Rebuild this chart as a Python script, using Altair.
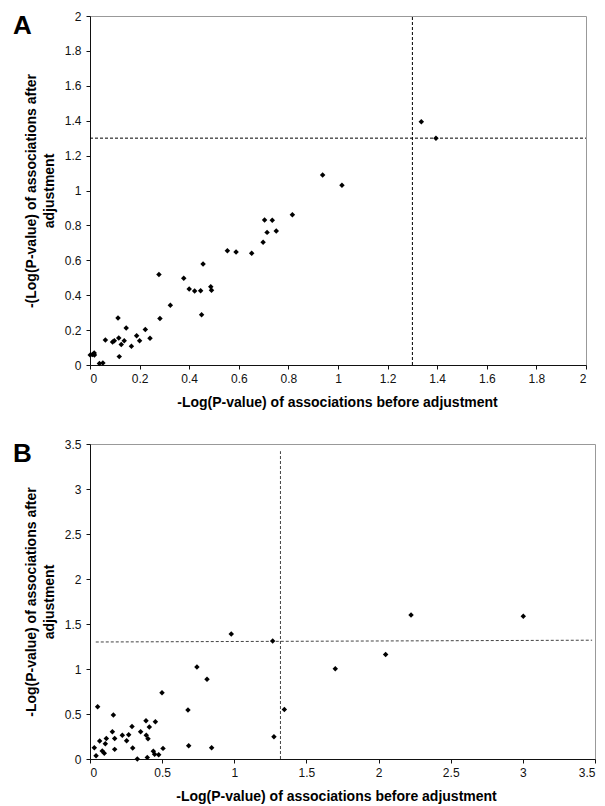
import altair as alt
import pandas as pd

# ---------------- Panel A data ----------------
A_x = [0.938, 1.016, 0.816, 0.704, 0.735, 0.714, 0.751, 0.698, 0.554, 0.589,
       0.652, 0.456, 0.278, 0.378, 0.400, 0.422, 0.446, 0.487, 0.490, 0.450,
       0.324, 0.282, 0.113, 0.146, 0.223, 0.188, 0.242, 0.200, 0.138, 0.116,
       0.091, 0.098, 0.062, 0.126, 0.167, 0.118, 0.001, 0.017, 0.018, 0.010,
       0.038, 0.052, 1.336, 1.395]
A_y = [1.089, 1.030, 0.861, 0.831, 0.829, 0.760, 0.768, 0.703, 0.655, 0.648,
       0.640, 0.579, 0.518, 0.497, 0.436, 0.424, 0.426, 0.449, 0.428, 0.288,
       0.342, 0.267, 0.269, 0.212, 0.204, 0.168, 0.153, 0.139, 0.139, 0.155,
       0.132, 0.139, 0.143, 0.118, 0.107, 0.048, 0.057, 0.069, 0.057, 0.060,
       0.008, 0.011, 1.394, 1.299]

# ---------------- Panel B data ----------------
B_x = [0.979, 1.266, 0.741, 0.811, 1.700, 1.347, 1.275, 0.499, 0.679, 0.684,
       0.843, 0.053, 0.162, 0.388, 0.453, 0.411, 0.291, 0.155, 0.351, 0.224,
       0.268, 0.390, 0.402, 0.171, 0.113, 0.067, 0.254, 0.106, 0.030, 0.296,
       0.171, 0.085, 0.099, 0.042, 0.506, 0.439, 0.448, 0.476, 0.397, 0.328,
       2.225, 3.003, 2.049]
B_y = [1.389, 1.311, 1.022, 0.885, 1.003, 0.551, 0.248, 0.737, 0.544, 0.148,
       0.126, 0.581, 0.489, 0.426, 0.415, 0.355, 0.362, 0.303, 0.303, 0.263,
       0.270, 0.263, 0.226, 0.229, 0.229, 0.200, 0.203, 0.170, 0.126, 0.122,
       0.107, 0.089, 0.063, 0.037, 0.118, 0.085, 0.052, 0.048, 0.018, 0.000,
       1.600, 1.585, 1.162]

# ---------------- Threshold lines ----------------
A_lines_x = [0.0, 1.30]
A_lines_x2 = [2.0, 1.30]
A_lines_y = [1.30, 0.0]
A_lines_y2 = [1.30, 2.0]

B_lines_x = [0.04, 1.32]
B_lines_x2 = [3.48, 1.32]
B_lines_y = [1.30, 0.0]
B_lines_y2 = [1.32, 3.42]

A_ticks = [0, 0.2, 0.4, 0.6, 0.8, 1, 1.2, 1.4, 1.6, 1.8, 2]
B_ticks = [0, 0.5, 1, 1.5, 2, 2.5, 3, 3.5]

X_TITLE = "-Log(P-value) of associations before adjustment"
A_Y_TITLE = ["-(Log(P-value) of associations after", "adjustment"]
B_Y_TITLE = ["-Log(P-value) of associations after", "adjustment"]

FONT = "Liberation Sans"


def panel(xs, ys, lx, lx2, ly, ly2, ticks, ymax, letter, w, h, ytitle, xtitle_x,
          line_color):
    pts = pd.DataFrame({"x": xs, "y": ys})
    lines = pd.DataFrame({"x": lx, "x2": lx2, "y": ly, "y2": ly2})
    lab = pd.DataFrame({"t": [letter]})

    xscale = alt.Scale(domain=[0, ymax], nice=False, zero=True)
    yscale = alt.Scale(domain=[0, ymax], nice=False, zero=True)

    xaxis = alt.Axis(values=ticks, format="~g", grid=False, domainColor="#111",
                     tickColor="#111", tickSize=4, labelPadding=4,
                     labelFont=FONT, labelFontSize=12, labelColor="#111",
                     title=X_TITLE, titleFont=FONT, titleFontSize=14,
                     titleFontWeight="bold", titleColor="#000",
                     titleBaseline="alphabetic", titleY=41, titleX=xtitle_x,
                     titleAlign="center")
    yaxis = alt.Axis(values=ticks, format="~g", grid=False, domainColor="#111",
                     tickColor="#111", tickSize=4, labelPadding=5,
                     labelFont=FONT, labelFontSize=12, labelColor="#111",
                     title=ytitle, titleFont=FONT, titleFontSize=14,
                     titleFontWeight="bold", titleColor="#000",
                     titleAngle=-90, titleBaseline="middle", titleAlign="center",
                     titleX=-59, titleY=h / 2, titleLineHeight=18)

    rules = alt.Chart(lines).mark_rule(color=line_color, strokeWidth=1,
                                       strokeDash=[3, 2]).encode(
        x=alt.X("x:Q", scale=xscale, axis=xaxis),
        x2="x2:Q",
        y=alt.Y("y:Q", scale=yscale, axis=yaxis),
        y2="y2:Q",
    )
    points = alt.Chart(pts).mark_point(shape="diamond", filled=True, size=30,
                                       color="#000", opacity=1).encode(
        x=alt.X("x:Q", scale=xscale, axis=xaxis),
        y=alt.Y("y:Q", scale=yscale, axis=yaxis),
    )
    letter_mark = alt.Chart(lab).mark_text(font=FONT, fontSize=26,
                                           fontWeight="bold", color="#000",
                                           align="left",
                                           baseline="alphabetic").encode(
        x=alt.value(-77), y=alt.value(18), text="t:N"
    )
    return alt.layer(rules, points, letter_mark).properties(width=w, height=h)


chart_a = panel(A_x, A_y, A_lines_x, A_lines_x2, A_lines_y, A_lines_y2,
                A_ticks, 2, "A", 496, 349, A_Y_TITLE, 247, "#000")
chart_b = panel(B_x, B_y, B_lines_x, B_lines_x2, B_lines_y, B_lines_y2,
                B_ticks, 3.5, "B", 505, 315, B_Y_TITLE, 246, "#444")

chart = alt.vconcat(chart_a, chart_b, spacing=27).properties(
    padding={"left": 4, "top": 1, "right": 0, "bottom": 0},
    background="white",
).configure_view(stroke="#999", strokeWidth=1)

chart.save("out.html", embed_options={"renderer": "svg", "actions": False})
